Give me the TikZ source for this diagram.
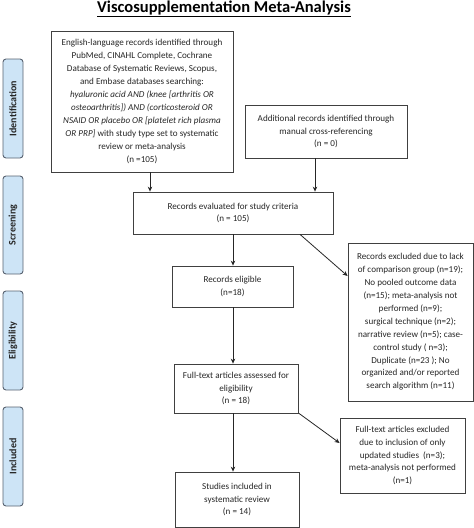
\documentclass[tikz,border=0pt]{standalone}
\usepackage{fontspec}
\setmainfont{Carlito}
\usetikzlibrary{arrows.meta}
\definecolor{sidefill}{RGB}{205,228,246}
\definecolor{sidedraw}{RGB}{88,98,112}
\begin{document}
\begin{tikzpicture}[x=1pt,y=-1pt,
  box/.style={draw=black!75,line width=0.8pt,align=center,inner sep=1pt,
    font=\fontsize{9.1}{12.9}\selectfont,text=black!85},
  side/.style={draw=sidedraw,line width=0.9pt,fill=sidefill,rounded corners=3pt,
    minimum height=20pt,inner sep=0pt,rotate=90,font=\fontsize{10}{11}\selectfont\bfseries,text=black!85},
  arr/.style={draw=black!85,line width=0.8pt,-{Stealth[length=5pt,width=4.5pt]}}]
\useasboundingbox (0,0) rectangle (474,528);
\node[font=\fontsize{16.5}{17}\selectfont\bfseries] (title) at (224,9) {\underline{Viscosupplementation Meta-Analysis}};
\node[box,minimum width=182pt,minimum height=141pt] (A) at (142,101.5) {English-language records identified through\\
PubMed, CINAHL Complete, Cochrane\\
Database of Systematic Reviews, Scopus,\\
and Embase databases searching:\\
\textit{hyaluronic acid AND (knee [arthritis OR}\\
\textit{osteoarthritis]) AND (corticosteroid OR}\\
\textit{NSAID OR placebo OR [platelet rich plasma}\\
\textit{OR PRP]} with study type set to systematic\\
review or meta-analysis\\
(n =105)};
\node[box,minimum width=162pt,minimum height=53pt] (B) at (326,131.5) {Additional records identified through\\ manual cross-referencing\\ (n = 0)};
\node[box,minimum width=200pt,minimum height=42pt] (C) at (233,213) {Records evaluated for study criteria\\ (n = 105)};
\node[box,minimum width=121pt,minimum height=41pt] (D) at (232.5,286.5) {Records eligible\\ (n=18)};
\node[box,minimum width=125pt,minimum height=158pt] (E) at (410.5,322) {Records excluded due to lack\\
of comparison group (n=19);\\
No pooled outcome data\\
(n=15); meta-analysis not\\
performed (n=9);\\
surgical technique (n=2);\\
narrative review (n=5); case-\\
control study ( n=3);\\
Duplicate (n=23 ); No\\
organized and/or reported\\
search algorithm (n=11)};
\node[box,minimum width=124pt,minimum height=49pt] (F) at (236,388.5) {Full-text articles assessed for\\ eligibility\\ (n = 18)};
\node[box,minimum width=125pt,minimum height=75pt] (G) at (402.5,455.5) {Full-text articles excluded\\ due to inclusion of only\\ updated studies~ (n=3);\\ meta-analysis not performed\\ (n=1)};
\node[box,minimum width=124pt,minimum height=55pt] (H) at (237,499.5) {Studies included in\\ systematic review\\ (n = 14)};
\node[side,minimum width=99pt] (s1) at (13,108.5) {Identification};
\node[side,minimum width=98pt] (s2) at (13,225) {Screening};
\node[side,minimum width=99pt] (s3) at (13,340.5) {Eligibility};
\node[side,minimum width=99pt] (s4) at (13,456.5) {Included};
\draw[arr] (A.south -| 150,0) -- (C.north -| 150,0);
\draw[arr] (B.south -| 315,0) -- (C.north -| 315,0);
\draw[arr] (C.south -| 233,0) -- (D.north -| 233,0);
\draw[arr] (D.south -| 233,0) -- (F.north -| 233,0);
\draw[arr] (F.south -| 233,0) -- (H.north -| 233,0);
\draw[arr] (C.south -| 300,0) -- (E.west |- 0,276);
\draw[arr] (F.south -| 299,0) -- (G.west |- 0,443);
\end{tikzpicture}
\end{document}
